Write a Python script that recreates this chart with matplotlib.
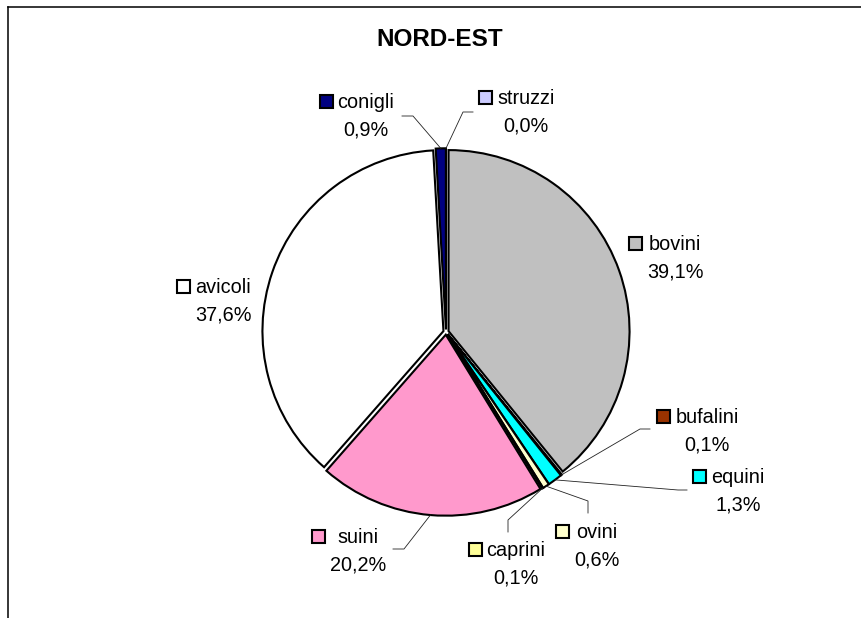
import matplotlib.pyplot as plt
from matplotlib.patches import Rectangle
import numpy as np

plt.rcParams['font.family'] = ['Liberation Sans', 'DejaVu Sans']

# Dati
categories = ['bovini', 'bufalini', 'equini', 'ovini', 'caprini', 'suini', 'avicoli', 'conigli', 'struzzi']
values = [39.1, 0.1, 1.3, 0.6, 0.1, 20.2, 37.6, 0.9, 0.0]
colors = ['#C0C0C0', '#993300', '#00FFFF', '#FFFFCC', '#FFFF99', '#FF99CC', '#FFFFFF', '#000080', '#CCCCFF']

# posizione etichette (centro testo x, baseline prima riga) in pixel
label_pos = {
    'bovini': (675, 250), 'bufalini': (707, 423), 'equini': (738, 483),
    'ovini': (597, 538), 'caprini': (516, 556), 'suini': (358, 543),
    'avicoli': (223, 293), 'conigli': (366, 108), 'struzzi': (526, 104),
}
# linee guida: (inizio, gomito)
leaders = {
    'conigli': ((402, 116), (413, 116)),
    'struzzi': ((473, 112), (463, 112)),
    'bufalini': ((650, 429), (640, 429)),
    'equini': ((687, 490), (678, 490)),
    'ovini': ((588, 513), (588, 501)),
    'caprini': ((508, 532), (508, 520)),
    'suini': ((393, 549), (404, 549)),
}

W, H = 861, 618
cx, cy, R, expl = 446, 332, 181, 2.7

fig = plt.figure(figsize=(W / 100, H / 100), dpi=100)
ax = fig.add_axes([0, 0, 1, 1])

wedges, _ = ax.pie(values, colors=colors, startangle=-90, counterclock=True,
                   center=(cx, cy), radius=R, explode=[expl] * len(values),
                   wedgeprops=dict(edgecolor='black', linewidth=1.5))
ax.set_xlim(0, W)
ax.set_ylim(H, 0)
ax.set_aspect('equal')
ax.axis('off')

# cornice (solo sinistra e sopra)
ax.plot([8, 8], [H, 7], color='black', lw=1.1, clip_on=False)
ax.plot([8, W], [7, 7], color='black', lw=1.1, clip_on=False)

ax.text(440, 40, 'NORD-EST', ha='center', va='center', fontsize=17.5, fontweight='bold')

renderer = fig.canvas.get_renderer()
fs = 14.3
for name, val, col, w in zip(categories, values, colors, wedges):
    x, yb = label_pos[name]
    pct = f'{val:.1f}%'.replace('.', ',')
    t1 = ax.text(x, yb, name, ha='center', va='baseline', fontsize=fs)
    t2 = ax.text(x, yb + 27.5, pct, ha='center', va='baseline', fontsize=fs)
    left = min(t1.get_window_extent(renderer).x0, t2.get_window_extent(renderer).x0)
    ax.add_patch(Rectangle((left - 5 - 13, yb - 13), 13, 13, facecolor=col,
                           edgecolor='black', lw=1.5))
    if name in leaders:
        (x0, y0), (x1, y1) = leaders[name]
        th = np.deg2rad((w.theta1 + w.theta2) / 2)
        ex = cx + (R + expl) * np.cos(th)
        ey = cy + (R + expl) * np.sin(th)
        ax.plot([x0, x1, ex], [y0, y1, ey], color='#222222', lw=0.6)

fig.savefig('out.png', dpi=100)
